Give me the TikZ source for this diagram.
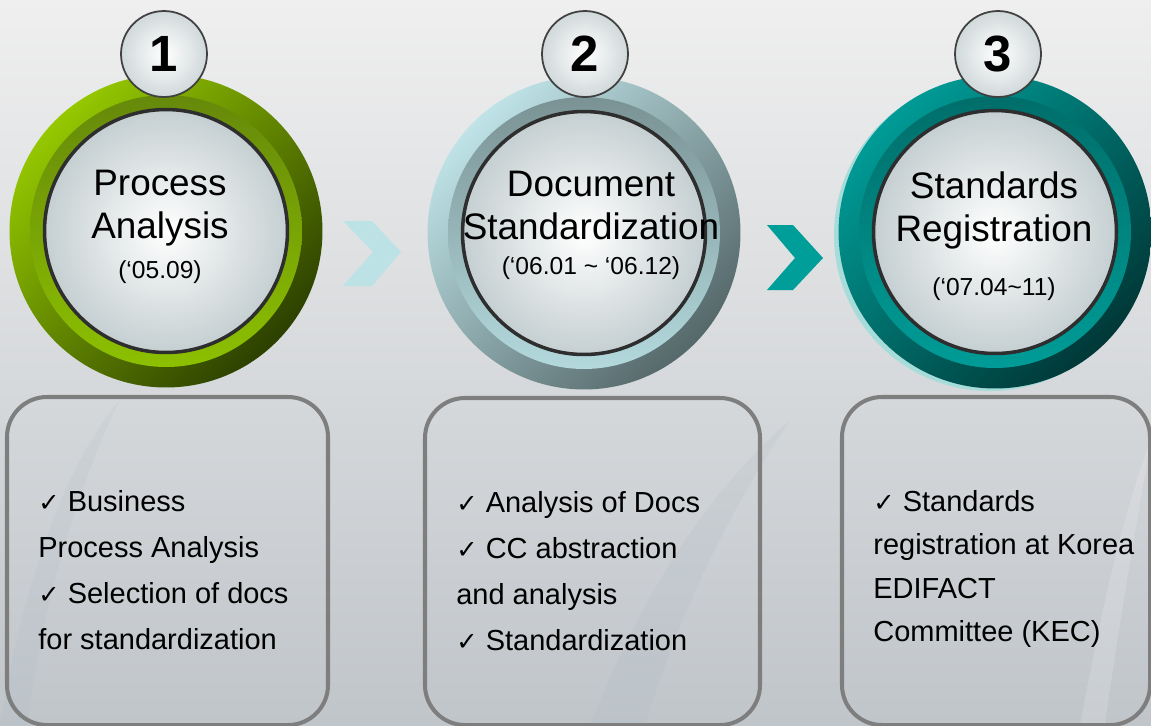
\documentclass[tikz,border=0pt]{standalone}
\usepackage{fontspec}
\setmainfont{Liberation Sans}
\newfontfamily\symfont{DejaVu Sans}
\usepackage{tikz}

\definecolor{bgtop}{HTML}{EFEFEF}
\definecolor{bgbot}{HTML}{C0C5CA}
\definecolor{swoosh}{HTML}{9FB2BE}
\definecolor{grnlt}{HTML}{95C800}
\definecolor{grndk}{HTML}{2C4000}
\definecolor{grnbt}{HTML}{66890A}
\definecolor{grnbb}{HTML}{8CC000}
\definecolor{blult}{HTML}{BFE3E7}
\definecolor{bludk}{HTML}{55686A}
\definecolor{blubt}{HTML}{7A9294}
\definecolor{blubb}{HTML}{B3D9DD}
\definecolor{teallt}{HTML}{009B96}
\definecolor{tealdk}{HTML}{003837}
\definecolor{tealbt}{HTML}{006E6A}
\definecolor{tealbb}{HTML}{009C97}
\definecolor{glassout}{HTML}{C5CFD1}
\definecolor{chevlt}{HTML}{BDE2E6}
\definecolor{chevdk}{HTML}{009E98}
\definecolor{boxline}{HTML}{7E7E7E}

\newcommand{\chk}{{\symfont\fontsize{14.5}{14.5}\selectfont ✓}}

\tikzset{
  outring/.style 2 args={circle, inner sep=0pt, minimum size=6.26cm,
    left color=#1, right color=#2, shading angle=45},
  band/.style 2 args={circle, inner sep=0pt, minimum size=5.44cm,
    top color=#1, bottom color=#2},
  glass/.style={circle, inner sep=0pt, minimum size=4.86cm, draw=black!82,
    line width=2pt, inner color=white, outer color=glassout},
  badge/.style={circle, inner sep=0pt, minimum size=1.72cm, draw=black!75,
    line width=1pt, inner color=white, outer color=glassout!80,
    font=\fontsize{29}{29}\selectfont\bfseries},
  title/.style={align=center, font=\fontsize{21}{24.5}\selectfont},
  when/.style={font=\fontsize{14}{16}\selectfont},
  stepbox/.style={draw=boxline, line width=2.3pt, rounded corners=0.8cm},
  bullets/.style={anchor=west, align=left, inner sep=0pt,
    font=\fontsize{16.5}{26.2}\selectfont}
}

\begin{document}
\begin{tikzpicture}[x=0.02cm,y=-0.02cm]
    \useasboundingbox (0,0) rectangle (1151,725);
    \clip (0,0) rectangle (1151,725);
    \shade[top color=bgtop, bottom color=bgbot] (0,0) rectangle (1151,725);
    \fill[swoosh, opacity=0.12] (0,725) .. controls (20,600) and (60,470) .. (120,400) .. controls (80,480) and (40,610) .. (28,725) -- cycle;
    \fill[swoosh, opacity=0.14] (590,725) .. controls (640,600) and (700,500) .. (790,420) .. controls (730,510) and (680,610) .. (645,725) -- cycle;
    \fill[white, opacity=0.15] (1080,725) .. controls (1100,620) and (1120,520) .. (1151,440) .. controls (1130,560) and (1115,650) .. (1105,725) -- cycle;

    % step 1
    \node[outring={grnlt}{grndk}] (o1) at (166,231) {};
    \node[band={grnbt}{grnbb}] (b1) at (o1) {};
    \node[glass] (g1) at (o1) {};
    \node[badge] (n1) at (164,54) {1};
    \node[title] (t1) at (160,208) {Process\\Analysis};
    \node[when] (d1) at (160,272) {(`05.09)};

    % step 2
    \node[outring={blult}{bludk}] (o2) at (584,233) {};
    \node[band={blubt}{blubb}] (b2) at (o2) {};
    \node[glass] (g2) at (o2) {};
    \node[badge] (n2) at (585,54) {2};
    \node[title] (t2) at (591,205) {Document\\Standardization};
    \node[when] (d2) at (591,268) {(`06.01 \textasciitilde{} `06.12)};

    % step 3
    \fill[teallt!35] (990,235) circle (156);
    \node[outring={teallt}{tealdk}] (o3) at (995,232) {};
    \node[band={tealbt}{tealbb}] (b3) at (o3) {};
    \node[glass] (g3) at (o3) {};
    \node[badge] (n3) at (998,54) {3};
    \node[title] (t3) at (994,210) {Standards\\Registration};
    \node[when] (d3) at (994,289) {(`07.04\textasciitilde11)};

    % chevrons
    \fill[chevlt] (343,221) -- (372,221) -- (401,252) -- (372,286) -- (343,286) -- (373,252) -- cycle;
    \fill[chevdk] (767,225) -- (793,225) -- (823,258) -- (793,290) -- (767,290) -- (795,258) -- cycle;

    % boxes
    \draw[stepbox] (7,397) rectangle (328,725);
    \draw[stepbox] (425,398) rectangle (760,725);
    \draw[stepbox] (842,397) rectangle (1150,725);

    \node[bullets] (l1) at (38,570) {\chk{} Business\\Process Analysis\\\chk{} Selection of docs\\for standardization};
    \node[bullets] (l2) at (456,571) {\chk{} Analysis of Docs\\\chk{} CC abstraction\\and analysis\\\chk{} Standardization};
    \node[bullets, font=\fontsize{16.5}{24.7}\selectfont] (l3) at (873,569) {\chk{} Standards\\registration at Korea\\EDIFACT\\Committee (KEC)};
\end{tikzpicture}
\end{document}
